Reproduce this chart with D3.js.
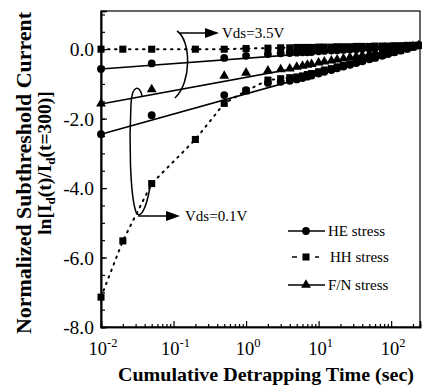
<!DOCTYPE html>
<html><head><meta charset="utf-8">
<script src="https://cdn.jsdelivr.net/npm/d3@7"></script>
<style>
body{margin:0;background:#fff}
svg{display:block}
text{font-family:"Liberation Serif","Times New Roman",serif;fill:#000}
</style>
</head><body>
<svg id="c" width="422" height="388"></svg>
<script>
// ---- data ----
const sparseTimesHE = [0.01, 0.05, 0.5, 1, 2, 3, 4];
const sparseTimesHH = [0.01, 0.02, 0.05, 0.2, 0.5, 1, 2, 3, 4];
const denseTimes = [5, 6, 7, 8, 10, 12, 15, 18, 22, 27, 33, 40, 50, 60, 75, 90, 110, 135, 165, 200, 240];

const he35 = [-0.57, -0.41, -0.25, -0.19, -0.14, -0.12, -0.11,
  -0.10, -0.09, -0.09, -0.08, -0.06, -0.05, -0.04, -0.03, -0.02, -0.01, 0.00, 0.01, 0.02, 0.03, 0.04, 0.06, 0.07, 0.08, 0.09, 0.10, 0.11];
const hh35 = [0.00, 0.00, 0.00, 0.00, 0.00, 0.02, 0.03, 0.04, 0.04,
  0.05, 0.05, 0.05, 0.05, 0.06, 0.06, 0.06, 0.07, 0.07, 0.07, 0.08, 0.08, 0.08, 0.09, 0.09, 0.09, 0.10, 0.10, 0.11, 0.11, 0.11];
const fn35 = [-1.57, -1.16, -0.77, -0.68, -0.62, -0.58, -0.56,
  -0.51, -0.48, -0.45, -0.43, -0.39, -0.36, -0.33, -0.30, -0.27, -0.24, -0.21, -0.18, -0.14, -0.11, -0.08, -0.05, -0.02, 0.01, 0.05, 0.08, 0.11];
const he01 = [-2.45, -1.90, -1.32, -1.18, -0.97, -0.94, -0.91,
  -0.87, -0.83, -0.79, -0.76, -0.70, -0.65, -0.60, -0.55, -0.50, -0.45, -0.40, -0.35, -0.29, -0.25, -0.19, -0.14, -0.09, -0.04, 0.01, 0.06, 0.11];
const hh01 = [-7.14, -5.52, -3.87, -2.60, -1.56, -1.20, -0.89, -0.85, -0.82,
  -0.80, -0.77, -0.73, -0.70, -0.65, -0.60, -0.56, -0.51, -0.47, -0.42, -0.37, -0.33, -0.27, -0.23, -0.18, -0.13, -0.08, -0.04, 0.01, 0.06, 0.11];

// straight-line fits (start/end)
const fitTimes = [0.01, 250];
const fitHE35 = [-0.57, 0.11];
const fitFN35 = [-1.58, 0.11];
const fitHE01 = [-2.45, 0.11];

const xTickExps = [-2, -1, 0, 1, 2];
const yTickValues = [0, -2, -4, -6, -8];
const yTickLabels = ["0.0", "-2.0", "-4.0", "-6.0", "-8.0"];
const legendNames = ["HE stress", "HH stress", "F/N stress"];

// ---- layout ----
const svg = d3.select("#c");
const L = 101, R = 420, T = 11, B = 327;
const x = d3.scaleLog().domain([0.01, 250]).range([L, R]);
const y = d3.scaleLinear().domain([-8, 1.1]).range([B, T]);

const tHE = sparseTimesHE.concat(denseTimes);
const tHH = sparseTimesHH.concat(denseTimes);
const zip = (ts, vs) => ts.map((t, i) => ({t, v: vs[i]}));

// frame
svg.append("rect").attr("x", L).attr("y", T).attr("width", R - L).attr("height", B - T)
  .attr("fill", "none").attr("stroke", "#000").attr("stroke-width", 1.2);

// axes with inward ticks
const minorX = [];
for (let e = -2; e <= 2; e++) for (let k = 2; k <= 9; k++) { const v = k * Math.pow(10, e); if (v <= 250) minorX.push(v); }
const gx = svg.append("g").attr("transform", `translate(0,${B})`);
gx.call(d3.axisBottom(x).tickValues(xTickExps.map(e => Math.pow(10, e))).tickSize(-6).tickFormat(""));
const gxm = svg.append("g").attr("transform", `translate(0,${B})`);
gxm.call(d3.axisBottom(x).tickValues(minorX).tickSize(-3).tickFormat(""));
[gx, gxm].forEach(g => { g.select(".domain").attr("stroke-width", 1.6); g.selectAll("line").attr("stroke-width", 1.2); });

const minorY = d3.range(-8, 1.01, 0.5);
const gy = svg.append("g").attr("transform", `translate(${L},0)`);
gy.call(d3.axisLeft(y).tickValues(yTickValues).tickSize(-6).tickFormat(""));
const gym = svg.append("g").attr("transform", `translate(${L},0)`);
gym.call(d3.axisLeft(y).tickValues(minorY).tickSize(-4).tickFormat(""));
[gy, gym].forEach(g => { g.select(".domain").attr("stroke-width", 1.6); g.selectAll("line").attr("stroke-width", 1.2); });

// tick labels
yTickValues.forEach((v, i) => {
  svg.append("text").attr("x", L - 7).attr("y", y(v)).attr("dy", "0.36em")
    .attr("text-anchor", "end").attr("font-size", 19.5).text(yTickLabels[i]);
});
xTickExps.forEach(e => {
  const t = svg.append("text").attr("x", x(Math.pow(10, e)) + 2).attr("y", 355)
    .attr("text-anchor", "middle").attr("font-size", 18.5);
  t.append("tspan").text("10");
  t.append("tspan").attr("font-size", 12.5).attr("dy", -8).text(e);
});

// axis titles
svg.append("text").attr("x", 266).attr("y", 381).attr("text-anchor", "middle")
  .attr("font-size", 19).attr("font-weight", "bold")
  .attr("textLength", 296).attr("lengthAdjust", "spacingAndGlyphs")
  .text("Cumulative Detrapping Time (sec)");
svg.append("text").attr("transform", "translate(31,173) rotate(-90)").attr("text-anchor", "middle")
  .attr("font-size", 20).attr("font-weight", "bold")
  .attr("textLength", 322).attr("lengthAdjust", "spacingAndGlyphs")
  .text("Normalized Subthreshold Current");
const yl2 = svg.append("text").attr("transform", "translate(51,163) rotate(-90)").attr("text-anchor", "middle")
  .attr("font-size", 19.5).attr("font-weight", "bold");
yl2.append("tspan").text("ln[I");
yl2.append("tspan").attr("font-size", 13).attr("dy", 4).text("d");
yl2.append("tspan").attr("dy", -4).text("(t)/I");
yl2.append("tspan").attr("font-size", 13).attr("dy", 4).text("d");
yl2.append("tspan").attr("dy", -4).text("(t=300)]");

// lines
const plot = svg.append("g");
const lineGen = d3.line().x(d => x(d.t)).y(d => y(d.v));
[fitHE35, fitFN35, fitHE01].forEach(f => {
  plot.append("path").datum(zip(fitTimes, f)).attr("d", lineGen)
    .attr("fill", "none").attr("stroke", "#000").attr("stroke-width", 1.6);
});
[hh35, hh01].forEach(s => {
  plot.append("path").datum(zip(tHH, s)).attr("d", lineGen)
    .attr("fill", "none").attr("stroke", "#000").attr("stroke-width", 2)
    .attr("stroke-dasharray", "1.5,5.5").attr("stroke-linecap", "round");
});

// markers
const sym = {
  circle: d3.symbol().type(d3.symbolCircle).size(48),
  square: d3.symbol().type(d3.symbolSquare).size(50),
  triangle: d3.symbol().type(d3.symbolTriangle).size(42)
};
function marks(ts, vs, kind) {
  plot.append("g").selectAll("path").data(zip(ts, vs)).join("path")
    .attr("transform", d => `translate(${x(d.t)},${y(d.v)})`)
    .attr("d", sym[kind]()).attr("fill", "#000");
}
marks(tHE, he35, "circle");
marks(tHE, he01, "circle");
marks(tHE, fn35, "triangle");
marks(tHH, hh35, "square");
marks(tHH, hh01, "square");

// annotations
const ann = svg.append("g").attr("fill", "none").attr("stroke", "#000").attr("stroke-width", 1.5);
ann.append("path").attr("d", "M177,31 C191,40 192,82 175,98");
ann.append("path").attr("d", "M180,33 L212,33");
svg.append("path").attr("d", "M219,33 L205,28 L205,38 Z").attr("fill", "#000");
svg.append("text").attr("x", 222).attr("y", 38).attr("font-size", 15).text("Vds=3.5V");

ann.append("path").attr("d", "M142,96 C140,85 132,84 131,104 C129,140 130,195 136,212 C140,220 146,210 150,187");
ann.append("path").attr("d", "M138,216 L172,216");
svg.append("path").attr("d", "M180,216 L166,211 L166,221 Z").attr("fill", "#000");
svg.append("text").attr("x", 185).attr("y", 221).attr("font-size", 15).text("Vds=0.1V");

// legend
const lg = svg.append("g");
const legY = [231, 257, 285];
const legKinds = ["circle", "square", "triangle"];
legY.forEach((ly, i) => {
  if (i === 1) {
    lg.append("line").attr("x1", 292).attr("x2", 297).attr("y1", ly).attr("y2", ly).attr("stroke", "#000").attr("stroke-width", 1.5);
    lg.append("line").attr("x1", 315).attr("x2", 319).attr("y1", ly).attr("y2", ly).attr("stroke", "#000").attr("stroke-width", 1.5);
  } else {
    lg.append("line").attr("x1", 288).attr("x2", 325).attr("y1", ly).attr("y2", ly).attr("stroke", "#000").attr("stroke-width", 1.5);
  }
  lg.append("path").attr("transform", `translate(306,${ly})`).attr("d", sym[legKinds[i]]()).attr("fill", "#000");
  lg.append("text").attr("x", i === 1 ? 330 : 328).attr("y", ly).attr("dy", "0.35em")
    .attr("font-size", 15).text(legendNames[i]);
});
</script>
</body></html>
